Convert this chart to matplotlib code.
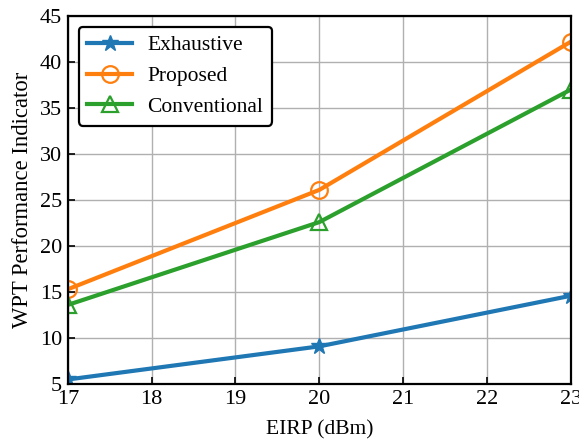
import matplotlib.pyplot as plt

eirp = [17, 20, 23]
exhaustive = [5.5, 9.1, 14.6]
proposed = [15.3, 26.1, 42.2]
conventional = [13.6, 22.6, 37.0]

plt.rcParams['font.family'] = ['Liberation Serif', 'DejaVu Serif']
plt.rcParams['mathtext.fontset'] = 'stix'

fig = plt.figure(figsize=(5.79, 4.42), dpi=100)
ax = fig.add_axes([0.117, 0.131, 0.869, 0.833])

ax.plot(eirp, exhaustive, '-*', color='#1f77b4', lw=3, ms=12, label='Exhaustive')
ax.plot(eirp, proposed, '-o', color='#ff7f0e', lw=3, ms=12, mfc='none', mew=1.6, label='Proposed')
ax.plot(eirp, conventional, '-^', color='#2ca02c', lw=3, ms=12, mfc='none', mew=1.6, label='Conventional')

ax.set_xlim(17, 23)
ax.set_ylim(5, 45)
ax.set_xticks(range(17, 24))
ax.set_yticks(range(5, 46, 5))
ax.grid(True, color='#b0b0b0', lw=1.0)
ax.tick_params(direction='in', labelsize=16, length=5, width=1.2, pad=4)
for s in ax.spines.values():
    s.set_linewidth(1.6)
ax.set_xlabel('EIRP (dBm)', fontsize=15.5, labelpad=8.5)
ax.set_ylabel('WPT Performance Indicator', fontsize=16.3, labelpad=5)

leg = ax.legend(loc='upper left', fontsize=15.5, fancybox=True, framealpha=1,
                edgecolor='black', handlelength=2.1, borderpad=0.4, labelspacing=0.5,
                handletextpad=0.7)
leg.get_frame().set_linewidth(1.6)

fig.savefig('out.png', dpi=100)
